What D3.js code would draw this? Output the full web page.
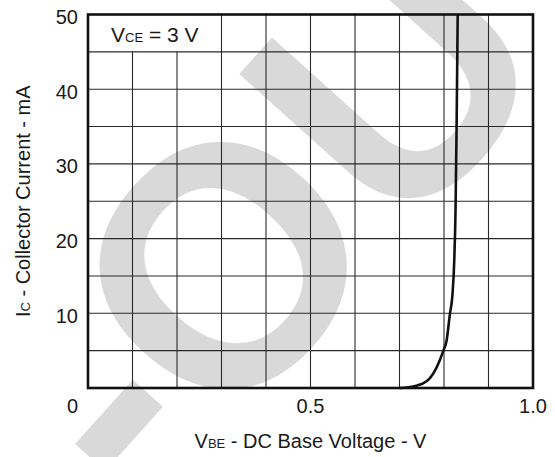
<!DOCTYPE html>
<html>
<head>
<meta charset="utf-8">
<script src="https://cdn.jsdelivr.net/npm/d3@7"></script>
<style>
  body { margin: 0; background: #fff; }
  text { font-family: "Liberation Sans", Arial, sans-serif; fill: #1a1a1a; }
</style>
</head>
<body>
<script>
// Curve: VBE (V) against IC (mA).
var vbe = [0.700, 0.720, 0.740, 0.753, 0.768, 0.783, 0.798, 0.806, 0.813, 0.819, 0.823, 0.826, 0.8285, 0.8308];
var ic = [0, 0.1, 0.35, 0.63, 1.3, 2.7, 4.9, 6.4, 9.8, 12.5, 17, 24, 36, 50];

var xGrid = d3.range(0, 1.0001, 0.1);
var yGrid = d3.range(0, 50.001, 5);
var xTickValues = [0, 0.5, 1.0];
var xTickLabels = ["0", "0.5", "1.0"];
var yTickValues = [10, 20, 30, 40, 50];

var w = 555;
var h = 457;
var margin = {left: 88, right: 22, top: 14.5, bottom: 69};

var svg = d3.select("body").append("svg")
    .attr("width", w)
    .attr("height", h);

var x = d3.scaleLinear().domain([0, 1]).range([margin.left, w - margin.right]);
var y = d3.scaleLinear().domain([0, 50]).range([h - margin.bottom, margin.top]);

// Watermark in the background, placed so its "O" sits where the picture has it.
var wmSize = 340;
var wm = svg.append("text")
    .attr("font-size", wmSize)
    .attr("font-weight", "bold")
    .style("fill", "#d9d9d9")
    .text("PHASE-OUT");
var box = wm.node().getExtentOfChar(6);
var cx = box.x + box.width / 2, cy = -0.36 * wmSize;
var ang = -48, r = ang * Math.PI / 180;
var tx = 220 - (cx * Math.cos(r) - cy * Math.sin(r));
var ty = 262 - (cx * Math.sin(r) + cy * Math.cos(r));
wm.attr("transform", "translate(" + tx + "," + ty + ") rotate(" + ang + ")");

// White box behind the VCE label.
svg.append("rect")
    .attr("x", x(0)).attr("y", y(50))
    .attr("width", x(0.3) - x(0)).attr("height", y(45) - y(50))
    .attr("fill", "#fff");

// Grid lines.
svg.append("g").selectAll("line")
    .data(xGrid.filter(d => d > 0 && d < 1))
    .enter().append("line")
    .attr("x1", d => x(d)).attr("x2", d => x(d))
    .attr("y1", d => d < 0.3 ? y(45) : y(50)).attr("y2", y(0))
    .attr("stroke", "#2a2a2a").attr("stroke-width", 1.1);

svg.append("g").selectAll("line")
    .data(yGrid.filter(d => d > 0 && d < 50))
    .enter().append("line")
    .attr("x1", x(0)).attr("x2", x(1))
    .attr("y1", d => y(d)).attr("y2", d => y(d))
    .attr("stroke", "#2a2a2a").attr("stroke-width", 1.1);

// The curve.
var line = d3.line()
    .x((d, i) => x(vbe[i]))
    .y(d => y(d))
    .curve(d3.curveMonotoneX);

svg.append("path")
    .datum(ic)
    .attr("d", line)
    .attr("fill", "none")
    .attr("stroke", "#111")
    .attr("stroke-width", 2.6);

// Frame.
svg.append("rect")
    .attr("x", x(0)).attr("y", y(50))
    .attr("width", x(1) - x(0)).attr("height", y(0) - y(50))
    .attr("fill", "none")
    .attr("stroke", "#111")
    .attr("stroke-width", 2.6);

// Tick labels.
svg.append("g").selectAll("text")
    .data(yTickValues)
    .enter().append("text")
    .attr("x", x(0) - 10)
    .attr("y", d => y(d) + 9.5)
    .attr("text-anchor", "end")
    .attr("font-size", 20)
    .text(d => d);

svg.append("g").selectAll("text")
    .data(xTickValues)
    .enter().append("text")
    .attr("x", d => d == 0 ? x(0) - 10 : x(d))
    .attr("y", 412.5)
    .attr("text-anchor", d => d == 0 ? "end" : "middle")
    .attr("font-size", 20)
    .text((d, i) => xTickLabels[i]);

// VCE label.
var vce = svg.append("text").attr("x", 111).attr("y", 42).attr("font-size", 21);
vce.append("tspan").text("V");
vce.append("tspan").attr("font-size", 13).text("CE");
vce.append("tspan").text(" = 3 V");

// Axis titles.
var xt = svg.append("text")
    .attr("x", x(0.5)).attr("y", 448)
    .attr("text-anchor", "middle")
    .attr("font-size", 20);
xt.append("tspan").text("V");
xt.append("tspan").attr("font-size", 13).text("BE");
xt.append("tspan").text(" - DC Base Voltage - V");

var yt = svg.append("text")
    .attr("transform", "translate(30," + y(25) + ") rotate(-90)")
    .attr("text-anchor", "middle")
    .attr("font-size", 20);
yt.append("tspan").text("I");
yt.append("tspan").attr("font-size", 13).text("C");
yt.append("tspan").text(" - Collector Current - mA");
</script>
</body>
</html>
